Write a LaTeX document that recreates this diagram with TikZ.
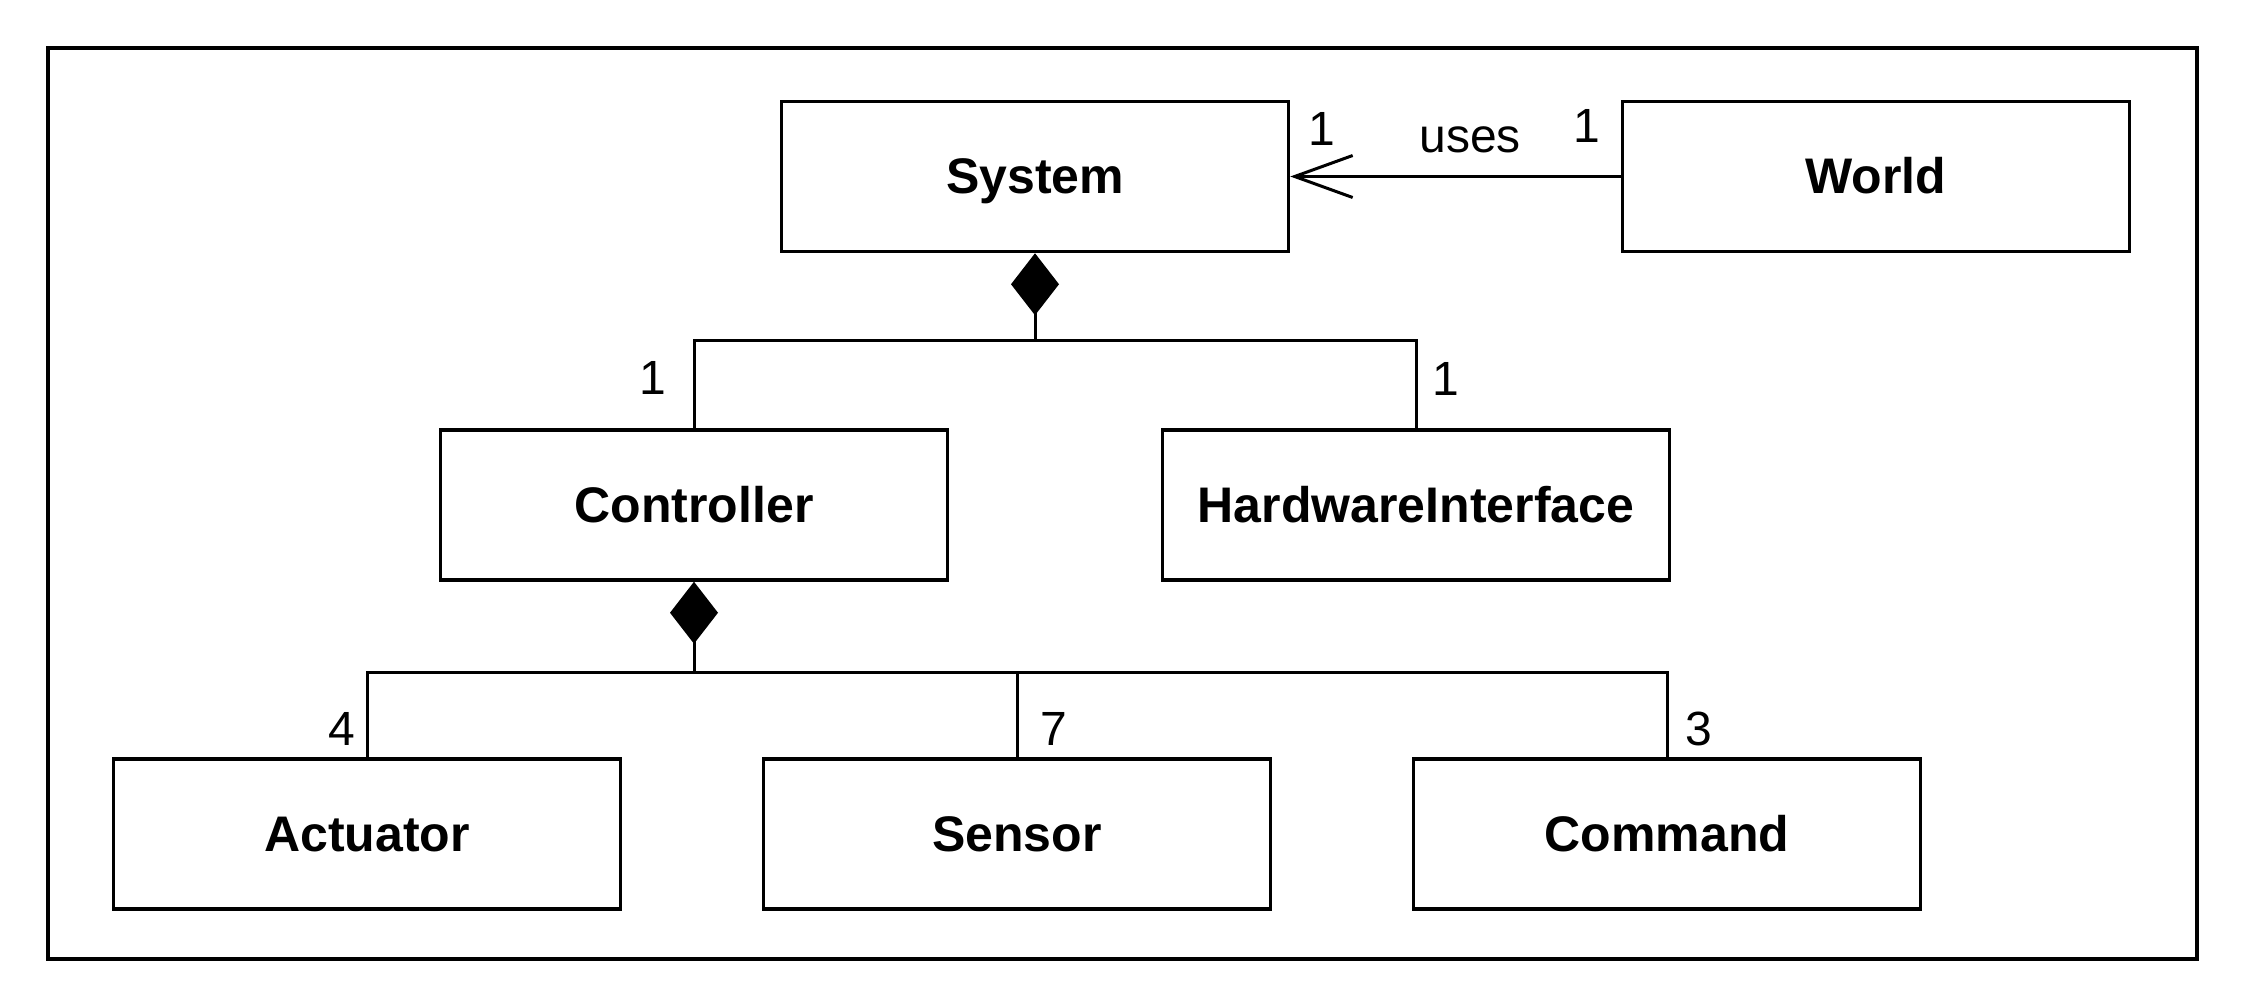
\documentclass[tikz,border=0pt]{standalone}
\usepackage{fontspec}
\setmainfont{Liberation Sans}
\usetikzlibrary{positioning,arrows.meta}

\tikzset{
  cls/.style={draw, line width=3.5pt, minimum width=507pt, minimum height=150pt,
    inner sep=0pt, text height=34pt, text depth=0pt,
    font=\fontsize{50}{60}\selectfont\bfseries},
  mult/.style={inner sep=0pt, font=\fontsize{48}{58}\selectfont},
  link/.style={line width=3pt},
  comp/.style={link, {Diamond[length=62pt,width=48pt]}-},
  uses/.style={link, -{Straight Barb[length=58pt,width=42pt,line width=3pt]}}
}

\begin{document}
\begin{tikzpicture}[x=1pt,y=-1pt]
              \useasboundingbox (0,0) rectangle (2241,1004);
              \draw[line width=4pt] (48,48) rectangle (2197,959);

              \node[cls] (sys) at (1035,176.5) {System};
              \node[cls, right=330.5pt of sys] (world) {World};

              \node[cls] (ctrl) at (694,505) {Controller};
              \node[cls, right=211.5pt of ctrl] (hwi) {HardwareInterface};

              \node[cls] (act) at (367,834) {Actuator};
              \node[cls, right=139.5pt of act] (sen) {Sensor};
              \node[cls, right=139.5pt of sen] (cmd) {Command};

              \node[mult] (m sys) at (1322,129) {1};
              \node[mult] (uses lbl) at (1470,140) {uses};
              \node[mult] (m world) at (1587,126) {1};
              \node[mult] (m ctrl) at (653,378) {1};
              \node[mult] (m hwi) at (1446,379) {1};
              \node[mult] (m act) at (342,729) {4};
              \node[mult] (m sen) at (1054,729) {7};
              \node[mult] (m cmd) at (1699,729) {3};

              \coordinate (bus1) at (1035,340);
              \coordinate (bus2) at (694,672);

              \begin{scope}
                  \draw[uses] (world.west) -- (sys.east);
                  \draw[comp] (sys.south) -- (bus1) -| (ctrl.north);
                  \draw[link] (bus1) -| (hwi.north);
                  \draw[comp] (ctrl.south) -- (bus2) -| (act.north);
                  \draw[link] (bus2) -| (sen.north);
                  \draw[link] (bus2) -| (cmd.north);
              \end{scope}

          \end{tikzpicture}
\end{document}
